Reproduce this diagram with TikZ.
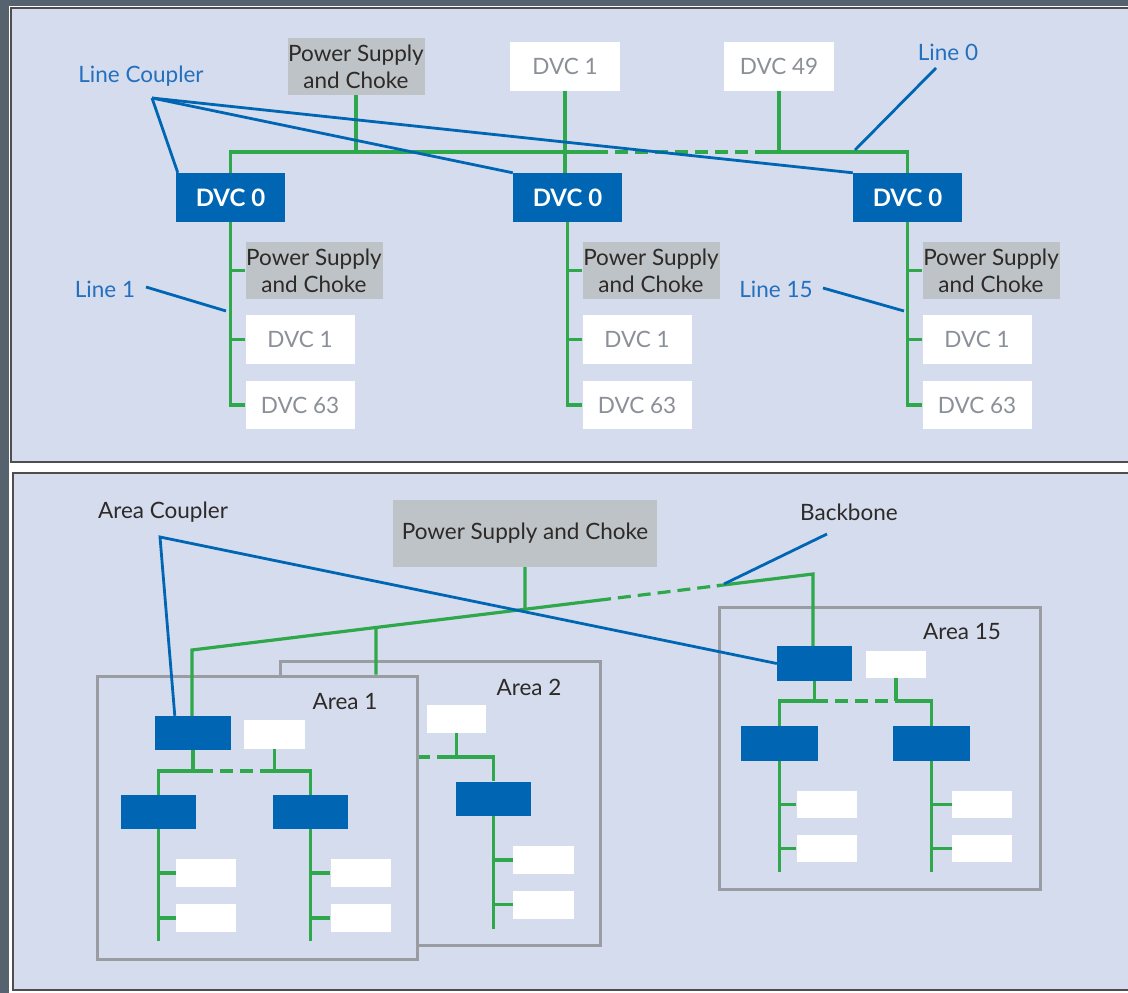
\documentclass[tikz,border=0pt]{standalone}
\usepackage{fontspec}
\setmainfont{Lato}
\usetikzlibrary{calc}
\definecolor{panelbg}{HTML}{D4DCEE}
\definecolor{dvcblue}{HTML}{0066B3}
\definecolor{lblue}{HTML}{2470BE}
\definecolor{bgreen}{HTML}{2FA84B}
\definecolor{psgray}{HTML}{BEC3C7}
\definecolor{dvgray}{HTML}{8A8F98}
\definecolor{dtext}{HTML}{2D2A28}
\definecolor{areagray}{HTML}{999DA2}
\definecolor{framec}{HTML}{56636E}
\definecolor{borderc}{HTML}{4E4E4E}
\begin{document}
\begin{tikzpicture}[x=1pt,y=-1pt,
  font=\fontsize{22.5}{27}\selectfont,
  coup/.style={fill=dvcblue, text=white, font=\fontsize{24}{28}\selectfont\bfseries, inner sep=0pt, minimum width=109pt, minimum height=49pt},
  dvbox/.style={fill=white, text=dvgray, inner sep=0pt, minimum width=110pt, minimum height=49pt},
  psbox/.style={fill=psgray, text=dtext, inner sep=0pt, minimum width=137pt, minimum height=57pt, align=center},
  blank/.style={fill=white, inner sep=0pt},
  bluebox/.style={fill=dvcblue, inner sep=0pt},
  area/.style={draw=areagray, line width=3pt, fill=panelbg, inner sep=0pt},
  gl/.style={draw=bgreen, line width=3.2pt},
  gdash/.style={gl, dash pattern=on 13pt off 7pt},
  bl/.style={draw=dvcblue, line width=2.8pt},
  lbl/.style={text=lblue, inner sep=0pt},
  dlbl/.style={text=dtext, inner sep=0pt},
  panel/.style={fill=panelbg, draw=borderc, line width=1.5pt}]
\useasboundingbox (0,0) rectangle (1128,993);
\clip (0,0) rectangle (1128,993);
% frame and panels
\fill[framec] (0,0) rectangle (1128,993);
\fill[white] (9,6) rectangle (1140,993);
\draw[panel] (11,8) rectangle (1140,462);
\draw[panel] (13,473) rectangle (1140,990);

% ================= TOP PANEL =================
\node[psbox] (ps0) at (356,66.5) {Power Supply\\and Choke};
\node[dvbox] (d1) at (565,66.5) {DVC 1};
\node[dvbox] (d49) at (779,66.5) {DVC 49};
\node[coup] (cL) at (230.5,197.5) {DVC 0};
\node[coup] (cM) at (567.5,197.5) {DVC 0};
\node[coup] (cR) at (907.5,197.5) {DVC 0};
\coordinate (bus) at (0,152);

% top bus
\draw[gl] (cL.north) -- (cL.north |- bus) -- (595,152);
\draw[gdash] (595,152) -- (762,152);
\draw[gl] (760,152) -- (cR.north |- bus) -- (cR.north);
\draw[gl] (ps0.south) -- (ps0.south |- bus);
\draw[gl] (d1.south) -- (d1.south |- cM.north);
\draw[gl] (d49.south) -- (d49.south |- bus);

% columns
\foreach \X/\n in {230.5/L,567.5/M,907.5/R}{
  \node[psbox] (ps\n) at (\X+83.5,270.5) {Power Supply\\and Choke};
  \node[dvbox, minimum width=109pt] (a\n) at (\X+69.5,339.5) {DVC 1};
  \node[dvbox, minimum width=109pt, minimum height=48pt] (b\n) at (\X+69.5,405) {DVC 63};
  \draw[gl] (c\n.south) |- (b\n.west);
  \draw[gl] (ps\n.west) -- (ps\n.west -| c\n.south);
  \draw[gl] (a\n.west) -- (a\n.west -| c\n.south);
}

% labels top
\node[lbl] (lc) at (141,76) {Line Coupler};
\coordinate (lcapex) at (152,98);
\node[lbl] (l0) at (948,52) {Line 0};
\node[lbl] (l1) at (105,289) {Line 1};
\node[lbl] (l15) at (776,289) {Line 15};
\coordinate (l0a) at (936,68);
\coordinate (l0b) at (855,150);
\coordinate (l1a) at (146,287);
\coordinate (l1b) at (226,311);
\coordinate (l15a) at (823,288);
\coordinate (l15b) at (904,311);

\draw[bl] (lcapex) -- ($(cL.north west)+(2,0)$);
\draw[bl] (lcapex) -- (cM.north west);
\draw[bl] (lcapex) -- (cR.north west);
\draw[bl] (l0a) -- (l0b);
\draw[bl] (l1a) -- (l1b);
\draw[bl] (l15a) -- (l15b);

% ================= BOTTOM PANEL =================
% Area 2
\node[area, minimum width=320pt, minimum height=284pt] (ar2) at (440,803) {};
\node[dlbl] at (529,687) {Area 2};
\node[blank, minimum width=59pt, minimum height=28pt] (a2w) at (456.5,719) {};
\node[bluebox, minimum width=75pt, minimum height=34pt] (a2c) at (493.5,798.5) {};
\coordinate (a2bus) at (0,757);
\draw[gdash] (417,757) -- (452,757);
\draw[gl] (450,757) -- (a2c.north |- a2bus) -- (a2c.north);
\draw[gl] (a2w.south) -- (a2w.south |- a2bus);
\node[blank, minimum width=61pt, minimum height=28pt] (a2x) at (543.5,860) {};
\node[blank, minimum width=61pt, minimum height=28pt] (a2y) at (543.5,904.5) {};
\draw[gl] (a2c.south) -- ++(0,113);
\draw[gl] (a2x.west) -- (a2x.west -| a2c.south);
\draw[gl] (a2y.west) -- (a2y.west -| a2c.south);

% Area 1
\node[area, minimum width=320pt, minimum height=283pt] (ar1) at (257,817.5) {};
\node[dlbl] at (345,702) {Area 1};
\node[bluebox, minimum width=76pt, minimum height=34pt] (a1c) at (193,733) {};
\node[blank, minimum width=61pt, minimum height=29pt] (a1w) at (274.5,734.5) {};
\node[bluebox, minimum width=75pt, minimum height=34pt] (a1l) at (158.5,812) {};
\node[bluebox, minimum width=75pt, minimum height=34pt] (a1r) at (310.5,812) {};
\coordinate (a1bus) at (0,771);
\draw[gl] (a1l.north) -- (a1l.north |- a1bus) -- (200,771);
\draw[gdash] (200,771) -- (272,771);
\draw[gl] (270,771) -- (a1r.north |- a1bus) -- (a1r.north);
\draw[gl] (a1c.south) -- (a1c.south |- a1bus);
\draw[gl] (a1w.south) -- (a1w.south |- a1bus);
\foreach \n/\cx in {l/206,r/360.5}{
  \node[blank, minimum width=60pt, minimum height=28pt] (a1\n x) at (\cx,873) {};
  \node[blank, minimum width=60pt, minimum height=28pt] (a1\n y) at (\cx,918) {};
  \draw[gl] (a1\n.south) -- ++(0,112);
  \draw[gl] (a1\n x.west) -- (a1\n x.west -| a1\n.south);
  \draw[gl] (a1\n y.west) -- (a1\n y.west -| a1\n.south);
}

% Area 15
\node[area, minimum width=321pt, minimum height=282pt] (ar15) at (879.5,748) {};
\node[dlbl] at (962,632) {Area 15};
\node[bluebox, minimum width=75pt, minimum height=35pt] (a15c) at (814.5,663.5) {};
\node[blank, minimum width=60pt, minimum height=27pt] (a15w) at (896,664.5) {};
\node[bluebox, minimum width=77pt, minimum height=35pt] (a15l) at (779.5,743.5) {};
\node[bluebox, minimum width=77pt, minimum height=35pt] (a15r) at (931.5,743.5) {};
\coordinate (a15bus) at (0,701);
\draw[gl] (a15l.north) -- (a15l.north |- a15bus) -- (815,701);
\draw[gdash] (815,701) -- (897,701);
\draw[gl] (895,701) -- (a15r.north |- a15bus) -- (a15r.north);
\draw[gl] (a15c.south) -- (a15c.south |- a15bus);
\draw[gl] (a15w.south) -- (a15w.south |- a15bus);
\foreach \n/\cx in {l/826.5,r/982}{
  \node[blank, minimum width=60pt, minimum height=27pt] (a15\n x) at (\cx,804.5) {};
  \node[blank, minimum width=60pt, minimum height=27pt] (a15\n y) at (\cx,848.5) {};
  \draw[gl] (a15\n.south) -- ++(0,111);
  \draw[gl] (a15\n x.west) -- (a15\n x.west -| a15\n.south);
  \draw[gl] (a15\n y.west) -- (a15\n y.west -| a15\n.south);
}

% backbone
\node[psbox, minimum width=264pt, minimum height=67pt] (psB) at (525,533.5) {Power Supply and Choke};
\coordinate (bbA) at (192,650);
\coordinate (bbB) at (813,574);
\draw[gl] (a1c.north -| bbA) -- (bbA) -- ($(bbA)!0.6538!(bbB)$);
\draw[gdash] ($(bbA)!0.6538!(bbB)$) -- ($(bbA)!0.8502!(bbB)$);
\draw[gl] ($(bbA)!0.845!(bbB)$) -- (bbB) -- (a15c.north -| bbB);
\draw[gl] (psB.south) -- ($(bbA)!0.5362!(bbB)$);
\draw[gl] ($(bbA)!0.2963!(bbB)$) -- (ar1.north -| 376,0);

% labels bottom
\node[dlbl] (ac) at (163,512) {Area Coupler};
\coordinate (acapex) at (160,537);
\node[dlbl] (bbl) at (849,512) {Backbone};
\coordinate (bbl1) at (827,534);
\coordinate (bbl2) at (724,584);
\draw[bl] ($(a1c.north west)+(20,0)$) -- (acapex) -- (a15c.west);
\draw[bl] (bbl1) -- (bbl2);
\end{tikzpicture}
\end{document}
